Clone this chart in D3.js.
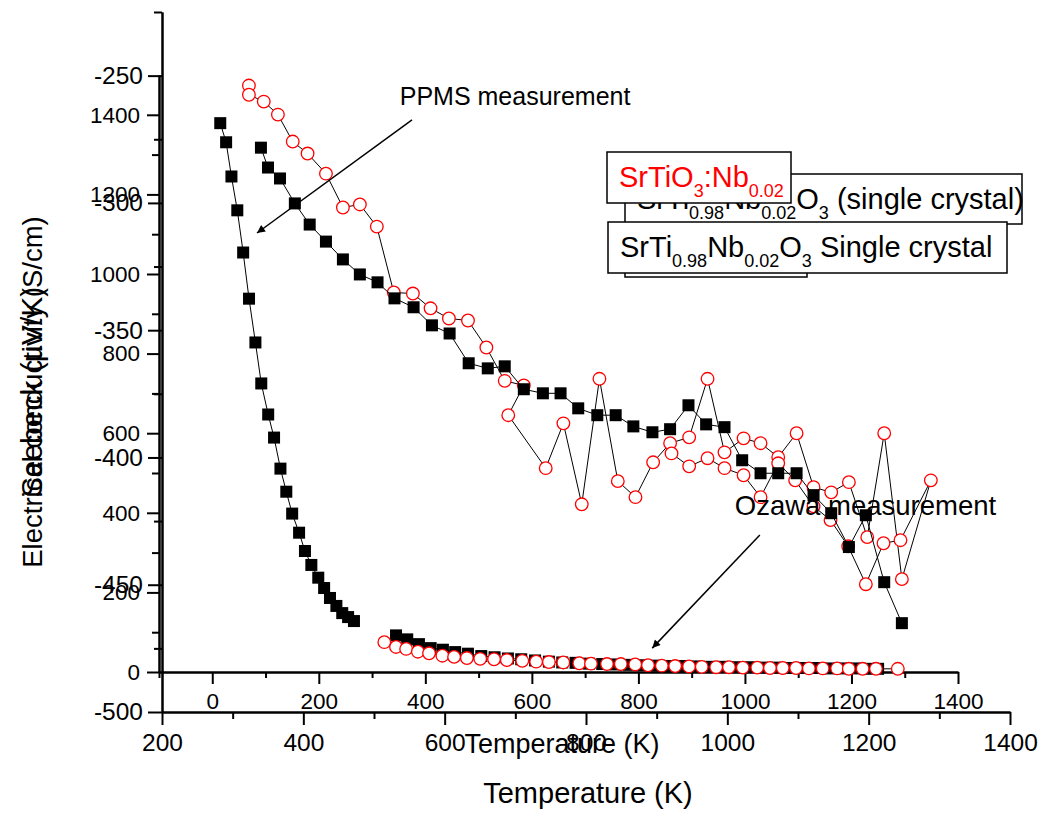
<!DOCTYPE html>
<html>
<head>
<meta charset="utf-8">
<script src="https://cdn.jsdelivr.net/npm/d3@7"></script>
<style>
  body { margin: 0; background: #fff; }
  text { font-family: "Liberation Sans", Arial, sans-serif; }
</style>
</head>
<body>
<svg id="chart" width="1041" height="815"></svg>
<script>
// ---- Seebeck plot (outer axes) ----
// single crystal, black squares
const seebeckT = [340,350,367,388,409,432,456,480,505,529,556,582,607,634,661,685,712,739,764,789,816,842,867,894,919,945,970,996,1021,1047,1072,1098,1122,1147,1172,1196,1222,1247];
const seebeckS = [-278.3,-286.1,-290.4,-300.2,-308.5,-315.2,-322.2,-328.1,-331.2,-337.5,-341.0,-348.1,-351.3,-363.0,-365.0,-364.2,-373.2,-374.8,-374.8,-380.7,-383.4,-383.4,-387.8,-390.1,-388.9,-379.5,-387.0,-388.1,-401.1,-406.2,-406.2,-406.2,-414.8,-421.9,-435.2,-422.7,-449.0,-465.1];
// SrTiO3:Nb, red circles (heating, then cooling back)
const seebeckNbT = [323,323,344,364,385,406,432,456,480,504,528,555,580,606,633,659,685,712,690,743,768,794,819,845,870,895,919,946,972,996,1023,1047,1072,1098,1122,1147,1172,1198,1222,1247,1288,
                    1245,1221,1196,1171,1146,1122,1096,1072,1047,1023,996,972,946,921];
const seebeckNbS = [-253.9,-257.5,-260.2,-265.3,-275.9,-280.6,-288.5,-301.8,-300.6,-309.3,-335.2,-335.6,-341.4,-345.4,-346.2,-356.8,-369.9,-371.7,-383.4,-404.2,-386.6,-418.4,-369.1,-409.3,-415.6,-401.9,-394.4,-392.1,-369.1,-398.0,-392.5,-394.4,-399.9,-390.5,-411.7,-413.7,-409.7,-431.3,-390.5,-447.8,-409.0,
                    -432.5,-433.7,-449.8,-434.9,-424.6,-419.2,-409.0,-402.3,-415.6,-407.0,-404.2,-400.3,-403.5,-398.4];

// ---- Conductivity plot (inner axes) ----
const ppmsT = [15,26,36,47,58,69,81,92,105,116,128,139,150,163,174,186,199,210,221,233,244,255,266];
const ppmsSigma = [1379,1331,1245,1160,1054,938,828,725,647,589,511,453,398,350,304,269,237,211,186,166,148,138,128];
const ozawaT = [345,366,388,410,433,456,480,505,530,555,580,606,632,657,682,707,732,757,782,807,832,857,882,907,932,957,982,1007,1032,1057,1082,1107,1132,1157,1182,1207,1232,1250];
const ozawaSigma = [92,82,70,60,56,50,46,40,37,34,32,29,26,24,23,21,20,19,18,17,16,15,15,14,13,13,12,12,11,11,10,10,10,9,9,9,8,8];
const condNbT = [323,345,364,386,407,432,454,478,503,529,553,582,608,632,659,689,711,741,767,794,818,844,869,895,919,946,970,996,1023,1047,1071,1096,1120,1146,1173,1195,1221,1246,1287];
const condNbSigma = [75,63,58,51,47,41,38,35,33,32,30,28,26,25,24,22,21,20,20,19,17,16,15,14,13,12,12,11,11,10,10,10,9,9,9,8,8,8,8];

// tick values
const outerXTicks = [200,400,600,800,1000,1200,1400];
const outerXMinor = [300,500,700,900,1100,1300];
const seebeckTicks = [-500,-450,-400,-350,-300,-250];
const seebeckMinor = [-475,-425,-375,-325,-275,-225];
const innerXTicks = [0,200,400,600,800,1000,1200,1400];
const innerXMinor = [-100,100,300,500,700,900,1100,1300];
const condTicks = [0,200,400,600,800,1000,1200,1400];
const condMinor = [100,300,500,700,900,1100,1300];

const svg = d3.select("#chart");

// scales
const xA = d3.scaleLinear().domain([200, 1400]).range([162, 1010]);
const yA = d3.scaleLinear().domain([-500, -225]).range([712, 12]);
const xB = d3.scaleLinear().domain([-100, 1400]).range([159, 958]);
const yB = d3.scaleLinear().domain([0, 1500]).range([672, 75]);

// plain labels: no thousands separator, ascii minus
const plain = d => String(d);

function styleAxis(g, fontSize) {
	g.selectAll("path").attr("stroke", "#000").attr("stroke-width", 2);
	g.selectAll("line").attr("stroke", "#000").attr("stroke-width", 2);
	g.selectAll("text")
		.attr("fill", "#000")
		.style("font-size", fontSize + "px")
		.style("font-family", '"Liberation Sans", Arial, sans-serif');
}

function addAxis(axis, tx, ty, fontSize) {
	let g = svg.append("g").attr("transform", "translate(" + tx + "," + ty + ")").call(axis);
	styleAxis(g, fontSize);
	return g;
}

function zip(xs, ys) {
	return xs.map((x, i) => ({x: x, y: ys[i]}));
}

function drawSeries(data, xs, ys, kind, withLine) {
	if (withLine) {
		svg.append("path")
			.datum(data)
			.attr("fill", "none")
			.attr("stroke", "#000")
			.attr("stroke-width", 1)
			.attr("d", d3.line().x(d => xs(d.x)).y(d => ys(d.y)));
	}
	if (kind == "square") {
		svg.append("g").selectAll("rect")
			.data(data)
			.enter()
			.append("rect")
			.attr("x", d => xs(d.x) - 6)
			.attr("y", d => ys(d.y) - 6)
			.attr("width", 12)
			.attr("height", 12)
			.attr("fill", "#000");
	} else {
		svg.append("g").selectAll("circle")
			.data(data)
			.enter()
			.append("circle")
			.attr("cx", d => xs(d.x))
			.attr("cy", d => ys(d.y))
			.attr("r", 6.3)
			.attr("fill", "#fff")
			.attr("stroke", "#ff0000")
			.attr("stroke-width", 1.3);
	}
}

function legendBox(x, y, w, h, parts, color, fontSize) {
	let g = svg.append("g");
	g.append("rect")
		.attr("x", x).attr("y", y).attr("width", w).attr("height", h)
		.attr("fill", "#fff").attr("stroke", "#000").attr("stroke-width", 1.5);
	let t = g.append("text")
		.attr("x", x + 12)
		.attr("y", y + 35)
		.attr("fill", color)
		.style("font-size", fontSize + "px");
	let shifted = false;
	parts.forEach(p => {
		let s = t.append("tspan").text(p.t);
		if (p.sub) {
			s.style("font-size", "18px").attr("dy", shifted ? 0 : 10);
			shifted = true;
		} else {
			s.attr("dy", shifted ? -10 : 0);
			shifted = false;
		}
	});
}

// ================= plot A : Seebeck =================
addAxis(d3.axisBottom(xA).tickValues(outerXMinor).tickSize(7).tickSizeOuter(0).tickFormat(""), 0, 712, 24);
addAxis(d3.axisBottom(xA).tickValues(outerXTicks).tickSize(13).tickSizeOuter(0).tickPadding(9).tickFormat(plain), 0, 712, 24.5);
addAxis(d3.axisLeft(yA).tickValues(seebeckMinor).tickSize(8).tickSizeOuter(0).tickFormat(""), 162, 0, 24);
addAxis(d3.axisLeft(yA).tickValues(seebeckTicks).tickSize(14).tickSizeOuter(0).tickPadding(5).tickFormat(plain), 162, 0, 24.5);

drawSeries(zip(seebeckNbT, seebeckNbS), xA, yA, "circle", true);
drawSeries(zip(seebeckT, seebeckS), xA, yA, "square", true);

svg.append("text")
	.attr("x", 588).attr("y", 803)
	.attr("text-anchor", "middle")
	.style("font-size", "29px")
	.text("Temperature (K)");

svg.append("text")
	.attr("transform", "translate(42,392) rotate(-90)")
	.attr("text-anchor", "middle")
	.style("font-size", "30px")
	.text("Seebeck (\u00b5V/K)");

legendBox(625, 174, 397, 50,
	[{t: "SrTi"}, {t: "0.98", sub: true}, {t: "Nb"}, {t: "0.02", sub: true}, {t: "O"}, {t: "3", sub: true}, {t: " (single crystal)"}],
	"#000", 29);
legendBox(625, 226, 182, 51,
	[{t: "SrTiO"}, {t: "3", sub: true}, {t: ":Nb"}, {t: "0.02", sub: true}],
	"#ff0000", 29);

// ================= plot B : conductivity =================
addAxis(d3.axisBottom(xB).tickValues(innerXMinor).tickSize(6).tickSizeOuter(0).tickFormat(""), 0, 672, 22);
addAxis(d3.axisBottom(xB).tickValues(innerXTicks).tickSize(12).tickSizeOuter(0).tickPadding(9).tickFormat(plain), 0, 672, 22.5);
addAxis(d3.axisLeft(yB).tickValues(condMinor).tickSize(7).tickSizeOuter(0).tickFormat(""), 159, 0, 22);
addAxis(d3.axisLeft(yB).tickValues(condTicks).tickSize(12).tickSizeOuter(0).tickPadding(7).tickFormat(plain), 159, 0, 22.5);

drawSeries(zip(ppmsT, ppmsSigma), xB, yB, "square", true);
drawSeries(zip(ozawaT, ozawaSigma), xB, yB, "square", true);
drawSeries(zip(condNbT, condNbSigma), xB, yB, "circle", true);

svg.append("text")
	.attr("x", 562).attr("y", 753)
	.attr("text-anchor", "middle")
	.style("font-size", "27px")
	.text("Temperature (K)");

svg.append("text")
	.attr("transform", "translate(42,392) rotate(-90)")
	.attr("text-anchor", "middle")
	.style("font-size", "27.5px")
	.text("Electrical conductivity (S/cm)");

// annotations, placed in conductivity units
svg.append("defs").append("marker")
	.attr("id", "arrow")
	.attr("viewBox", "0 0 10 10")
	.attr("refX", 10).attr("refY", 5)
	.attr("markerWidth", 12).attr("markerHeight", 8)
	.attr("markerUnits", "userSpaceOnUse")
	.attr("orient", "auto")
	.append("path")
	.attr("d", "M0,0 L10,5 L0,10 Z")
	.attr("fill", "#000");

svg.append("line")
	.attr("x1", xB(375)).attr("y1", yB(1387))
	.attr("x2", xB(84)).attr("y2", yB(1103))
	.attr("stroke", "#000").attr("stroke-width", 1.5)
	.attr("marker-end", "url(#arrow)");
svg.append("text")
	.attr("x", xB(352)).attr("y", yB(1425))
	.style("font-size", "25px")
	.text("PPMS measurement");

svg.append("line")
	.attr("x1", xB(1028)).attr("y1", yB(344))
	.attr("x2", xB(826)).attr("y2", yB(60))
	.attr("stroke", "#000").attr("stroke-width", 1.5)
	.attr("marker-end", "url(#arrow)");
svg.append("text")
	.attr("x", xB(981)).attr("y", yB(394))
	.style("font-size", "27.5px")
	.text("Ozawa measurement");

legendBox(607, 152, 184, 51,
	[{t: "SrTiO"}, {t: "3", sub: true}, {t: ":Nb"}, {t: "0.02", sub: true}],
	"#ff0000", 29);
legendBox(608, 222, 399, 51,
	[{t: "SrTi"}, {t: "0.98", sub: true}, {t: "Nb"}, {t: "0.02", sub: true}, {t: "O"}, {t: "3", sub: true}, {t: " Single crystal"}],
	"#000", 29);
</script>
</body>
</html>
